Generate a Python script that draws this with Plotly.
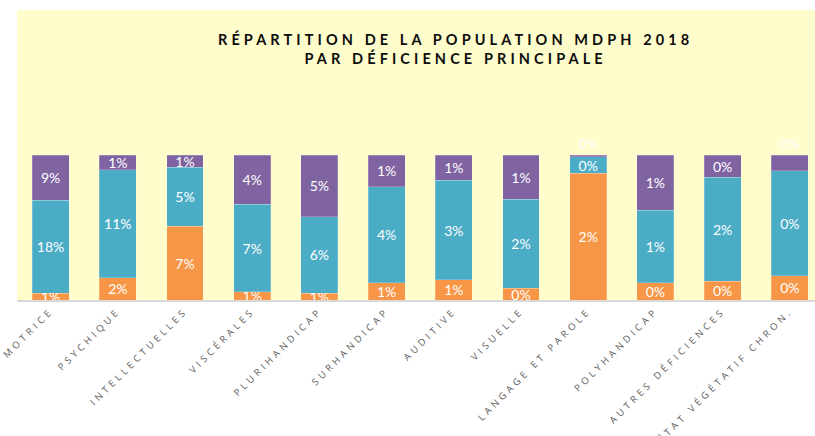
import plotly.graph_objects as go

categories = ["MOTRICE", "PSYCHIQUE", "INTELLECTUELLES", "VISCÉRALES", "PLURIHANDICAP",
              "SURHANDICAP", "AUDITIVE", "VISUELLE", "LANGAGE ET PAROLE", "POLYHANDICAP",
              "AUTRES DÉFICIENCES", "ÉTAT VÉGÉTATIF CHRON."]

# percentages of total population (labels are rounded values)
serie_orange = [1.3, 2.2, 6.7, 0.66, 0.55, 0.72, 0.61, 0.26, 2.01, 0.24, 0.34, 0.083]
serie_bleu = [18.4, 10.7, 5.37, 6.98, 6.35, 3.97, 3.02, 1.96, 0.26, 1.0, 1.86, 0.362]
serie_violet = [8.9, 1.48, 1.12, 3.94, 5.1, 1.31, 0.77, 0.98, 0.03, 0.76, 0.40, 0.055]

title_lines = ["RÉPARTITION DE LA POPULATION MDPH 2018", "PAR DÉFICIENCE PRINCIPALE"]

def lbl(vals):
    return [f"{v:.0f}%" for v in vals]

def spaced(s, ls):
    return f'<span style="letter-spacing:{ls}px">{s}</span>'

tick_text = [spaced(c, 3.6) for c in categories]

colors = ["#F79646", "#4BACC6", "#8064A2"]
series = [serie_orange, serie_bleu, serie_violet]

fig = go.Figure()
for i, (vals, col) in enumerate(zip(series, colors)):
    if i == 2:
        tp = ["outside" if idx in (8, 11) else "inside" for idx in range(len(vals))]
    else:
        tp = "inside"
    fig.add_trace(go.Bar(
        x=categories, y=vals, marker=dict(color=col, line=dict(width=0.6, color="rgba(255,255,255,0.35)")),
        text=lbl(vals), textposition=tp, insidetextanchor="middle", textangle=0,
        textfont=dict(color="white", size=14, family="Lato"),
        outsidetextfont=dict(color="white", size=14, family="Lato"),
        width=0.55, cliponaxis=True, hoverinfo="skip"))

fig.update_layout(
    barmode="stack", barnorm="fraction",
    width=815, height=436,
    margin=dict(l=17, r=0, t=10, b=136, autoexpand=False),
    paper_bgcolor="white", plot_bgcolor="#FFFDCB",
    showlegend=False,
    uniformtext=dict(mode="show", minsize=14),
    xaxis=dict(range=[-0.5, 11.375], tickmode="array", tickvals=categories, ticktext=tick_text,
               tickangle=-45, tickfont=dict(size=9.5, color="#595959", family="Open Sans"),
               showline=True, linecolor="#D9D9D9", linewidth=1.5, ticks="", showgrid=False,
               automargin=False, fixedrange=True),
    yaxis=dict(range=[0, 2.0], visible=False, showgrid=False, fixedrange=True),
    annotations=[dict(
        text="<br>".join(spaced(f"<b>{t}</b>", 4.1) for t in title_lines),
        xref="paper", yref="paper", x=(455 - 17) / 798, y=(300 - 48) / 290,
        xanchor="center", yanchor="middle", showarrow=False,
        font=dict(size=14.5, color="#0D0D0D", family="Lato"), align="center")],
)

fig.write_html("out.html", config={"displayModeBar": False},
               post_script="document.body.style.margin='0';document.body.style.overflow='hidden';")
